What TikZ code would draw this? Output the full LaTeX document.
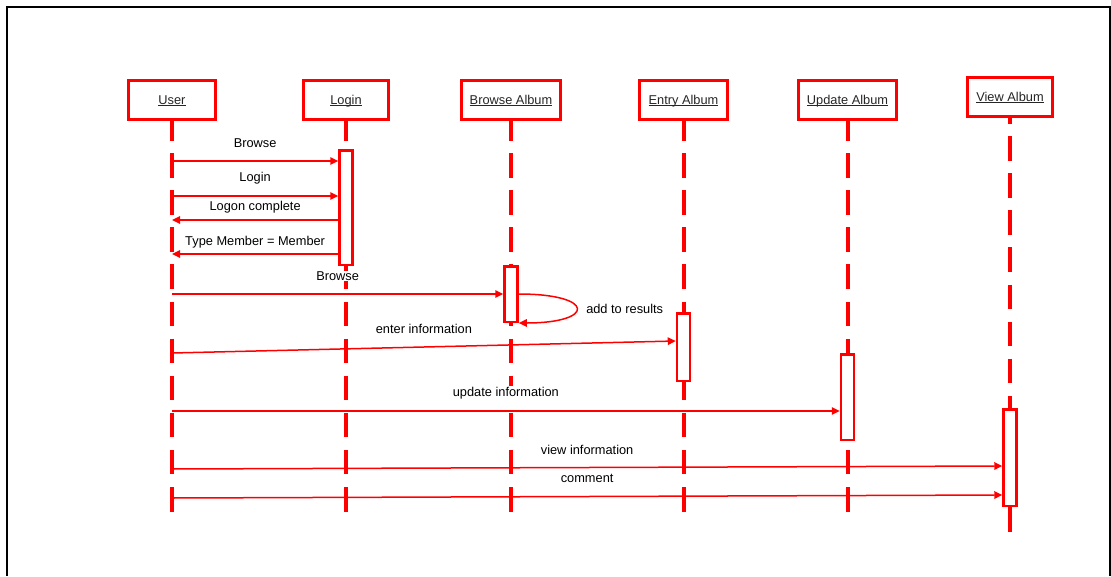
\documentclass[tikz,border=0pt]{standalone}
\usepackage{fontspec}
\setmainfont{Liberation Sans}
\usetikzlibrary{arrows.meta,positioning}

\newcommand{\objname}[1]{\underline{\smash{#1}}}

\begin{document}
\begin{tikzpicture}[x=1pt,y=-1pt,>={Triangle[length=8pt,width=7.5pt]},
                    node distance=170pt,font=\fontsize{12.8}{15}\selectfont]
	  \tikzstyle{obj}=[draw=red,fill=white,line width=3pt,minimum height=39pt,text=black!85,inner sep=0pt,
	                   text height=10pt,text depth=2pt]
	  \tikzstyle{act}=[draw=red,fill=white,line width=2.5pt,minimum width=13pt,inner sep=0pt]
	  \tikzstyle{lifeline}=[red,line width=4pt,dash pattern=on 24.5pt off 12.6pt,dash phase=5pt]
	  \tikzstyle{msg}=[->,red,line width=1.5pt]
	  \tikzstyle{lbl}=[fill=white,text=black,inner sep=1pt]

	  \useasboundingbox (0,0) rectangle (1111,576);
	  \draw[line width=2pt] (7,576) -- (7,7) -- (1109.5,7) -- (1109.5,576);

	  % objects
	  \node[obj, minimum width=87pt]                            (user) at (172,100) {\objname{User}};
	  \node[obj, minimum width=85pt, node distance=174pt, right of=user]   (login)  {\objname{Login}};
	  \node[obj, minimum width=99pt, node distance=165pt, right of=login]  (browse) {\objname{Browse Album}};
	  \node[obj, minimum width=88pt, node distance=172.5pt, right of=browse] (entry) {\objname{Entry Album}};
	  \node[obj, minimum width=98pt, node distance=164pt, right of=entry]  (update) {\objname{Update Album}};
	  \node[obj, minimum width=85pt, node distance=162.5pt, right of=update, yshift=3pt] (view) {\objname{View Album}};

	  % lifelines
	  \coordinate (bottom) at (0,512);
	  \coordinate (viewend) at (0,532);
	  \foreach \n in {user,login,browse,entry,update}
	    \draw[lifeline] (\n.south) -- (\n.south |- bottom);
	  \draw[lifeline, dash phase=19pt] (view.south) -- (view.south |- viewend);

	  % activations
	  \node[act, minimum height=114.5pt] (alogin)  at (login |- 0,207.5) {};
	  \node[act, minimum height=55.5pt]  (abrowse) at (browse |- 0,294) {};
	  \node[act, minimum height=67.5pt]  (aentry)  at (entry |- 0,347) {};
	  \node[act, minimum height=85.5pt]  (aupdate) at (update |- 0,397) {};
	  \node[act, minimum height=96.5pt]  (aview)   at (view |- 0,457.5) {};

	  % messages
	  \coordinate (m1) at (user |- 0,161);
	  \coordinate (m2) at (user |- 0,196);
	  \coordinate (m3) at (user |- 0,220);
	  \coordinate (m4) at (user |- 0,254);
	  \coordinate (m5) at (user |- 0,294);
	  \coordinate (m6) at (user |- 0,353);
	  \coordinate (m7) at (user |- 0,411);
	  \coordinate (m8) at (user |- 0,469);
	  \coordinate (m9) at (user |- 0,498);

	  \draw[msg] (m1) -- (m1 -| alogin.west) node[lbl, midway, yshift=18pt] {Browse};
	  \draw[msg] (m2) -- (m2 -| alogin.west) node[lbl, midway, yshift=18pt] {Login};
	  \draw[msg] (m3 -| alogin.west) -- (m3) node[lbl, midway, yshift=13pt] {Logon complete};
	  \draw[msg] (m4 -| alogin.west) -- (m4) node[lbl, midway, yshift=12pt] {Type Member = Member};
	  \draw[msg] (m5) -- (abrowse.west) node[lbl, midway, yshift=18pt] {Browse};
	  \draw[msg] (abrowse.east) .. controls +(77,0) and +(77,0) .. (abrowse.south east)
	    node[lbl, pos=0.5, anchor=west, xshift=8pt] {add to results};
	  \draw[msg] (m6) -- ([yshift=6pt]aentry.west) node[lbl, midway, yshift=18pt] {enter information};
	  \draw[msg] (m7) -- (m7 -| aupdate.west) node[lbl, midway, yshift=18pt] {update information};
	  \draw[msg] (m8) -- ([yshift=-8.5pt]aview.west) node[lbl, midway, yshift=18pt] {view information};
	  \draw[msg] (m9) -- ([yshift=-37.5pt]aview.west) node[lbl, midway, yshift=18pt] {comment};
\end{tikzpicture}
\end{document}
